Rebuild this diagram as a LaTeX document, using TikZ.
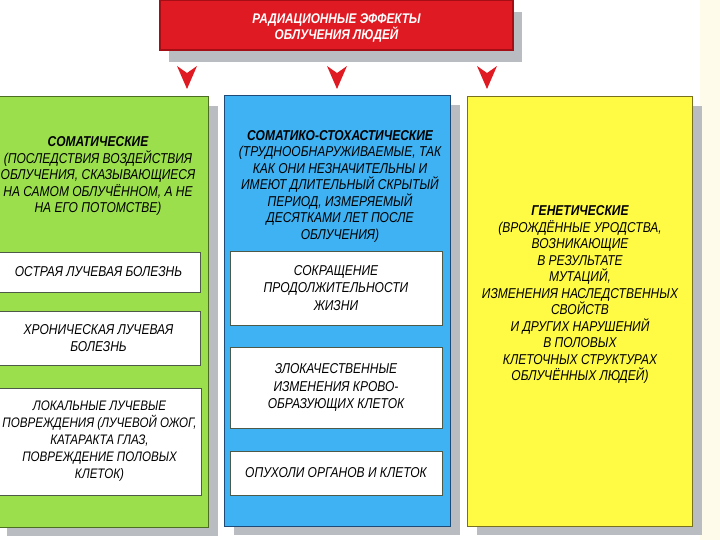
\documentclass[tikz,border=0pt]{standalone}
\usepackage{fontspec}
\setmainfont{Liberation Sans}[FakeStretch=0.84]
\usetikzlibrary{positioning,shadows}
\definecolor{titlered}{HTML}{E01A22}
\definecolor{titledark}{HTML}{A50E14}
\definecolor{shadowgray}{HTML}{B9BDC1}
\definecolor{somgreen}{HTML}{9CDF4C}
\definecolor{somdark}{HTML}{4B6E22}
\definecolor{stoblue}{HTML}{3EB2F2}
\definecolor{stodark}{HTML}{1E4A78}
\definecolor{genyellow}{HTML}{FFFB45}
\definecolor{gendark}{HTML}{77701E}
\definecolor{boxedge}{HTML}{4E5A48}
\definecolor{cream}{HTML}{FFFBEA}
\tikzset{
  column/.style={
    rectangle, line width=1pt,
    drop shadow={shadow xshift=10pt, shadow yshift=-9pt, fill=shadowgray, opacity=1}
  },
  titlebox/.style={
    rectangle, fill=titlered, draw=titledark, line width=1.2pt,
    minimum width=353pt, minimum height=50pt,
    drop shadow={shadow xshift=9pt, shadow yshift=-12pt, fill=shadowgray, opacity=1}
  },
  titletext/.style={
    font=\fontsize{14}{15}\selectfont\bfseries\itshape, text=white, align=center
  },
  headtext/.style={
    align=center, font=\fontsize{14.3}{16.5}\selectfont\itshape, text=black
  },
  itembox/.style={
    rectangle, fill=white, draw=boxedge, line width=0.8pt,
    align=center, font=\fontsize{14.3}{17.5}\selectfont\itshape
  },
  pointer/.style={fill=titlered, draw=none}
}
\begin{document}
\begin{tikzpicture}[x=1pt,y=-1pt]
\useasboundingbox (0,0) rectangle (720,540);
\fill[white] (0,0) rectangle (720,540);
\fill[cream] (700,0) rectangle (720,540);

% заголовок
\node[titlebox] (title) at (336.5,25) {};
\node[titletext] (titlelabel) at (336.5,28) {РАДИАЦИОННЫЕ ЭФФЕКТЫ\\ОБЛУЧЕНИЯ ЛЮДЕЙ};

% столбцы
\node[column, fill=somgreen, draw=somdark, minimum width=211pt, minimum height=430pt] (som) at (102.5,312) {};
\node[column, fill=stoblue, draw=stodark, minimum width=226pt, minimum height=430pt] (sto) at (337,311) {};
\node[column, fill=genyellow, draw=gendark, minimum width=225pt, minimum height=429pt] (gen) at (579.5,311.5) {};

% стрелки
\foreach \px in {187,337,487}
  \fill[pointer] (\px-10,66) -- (\px,73) -- (\px+10,66) -- (\px,89) -- cycle;

% соматические
\node[headtext] (somhead) at (98,176) {\textbf{СОМАТИЧЕСКИЕ}\\(ПОСЛЕДСТВИЯ ВОЗДЕЙСТВИЯ\\ОБЛУЧЕНИЯ, СКАЗЫВАЮЩИЕСЯ\\НА САМОМ ОБЛУЧЁННОМ, А НЕ\\НА ЕГО ПОТОМСТВЕ)};
\node[itembox, minimum width=203pt, minimum height=40pt] (som1) at (98.5,272) {ОСТРАЯ ЛУЧЕВАЯ БОЛЕЗНЬ};
\node[itembox, minimum width=203pt, minimum height=54pt] (som2) at (98.5,338) {ХРОНИЧЕСКАЯ ЛУЧЕВАЯ\\БОЛЕЗНЬ};
\node[itembox, minimum width=203pt, minimum height=107pt, font=\fontsize{13.8}{17}\selectfont\itshape] (som3) at (99.5,441.5) {ЛОКАЛЬНЫЕ ЛУЧЕВЫЕ\\ПОВРЕЖДЕНИЯ (ЛУЧЕВОЙ ОЖОГ,\\КАТАРАКТА ГЛАЗ,\\ПОВРЕЖДЕНИЕ ПОЛОВЫХ\\КЛЕТОК)};

% сомато-стохастические
\node[headtext] (stohead) at (340,186) {\textbf{СОМАТИКО-СТОХАСТИЧЕСКИЕ}\\(ТРУДНООБНАРУЖИВАЕМЫЕ, ТАК\\КАК ОНИ НЕЗНАЧИТЕЛЬНЫ И\\ИМЕЮТ ДЛИТЕЛЬНЫЙ СКРЫТЫЙ\\ПЕРИОД, ИЗМЕРЯЕМЫЙ\\ДЕСЯТКАМИ ЛЕТ ПОСЛЕ\\ОБЛУЧЕНИЯ)};
\node[itembox, minimum width=212pt, minimum height=74pt] (sto1) at (336,288) {СОКРАЩЕНИЕ\\ПРОДОЛЖИТЕЛЬНОСТИ\\ЖИЗНИ};
\node[itembox, minimum width=212pt, minimum height=81pt] (sto2) at (336,387.5) {ЗЛОКАЧЕСТВЕННЫЕ\\ИЗМЕНЕНИЯ КРОВО-\\ОБРАЗУЮЩИХ КЛЕТОК};
\node[itembox, minimum width=212pt, minimum height=44pt] (sto3) at (336,473) {ОПУХОЛИ ОРГАНОВ И КЛЕТОК};

% генетические
\node[headtext] (genhead) at (580,294.5) {\textbf{ГЕНЕТИЧЕСКИЕ}\\(ВРОЖДЁННЫЕ УРОДСТВА,\\ВОЗНИКАЮЩИЕ\\В РЕЗУЛЬТАТЕ\\МУТАЦИЙ,\\ИЗМЕНЕНИЯ НАСЛЕДСТВЕННЫХ\\СВОЙСТВ\\И ДРУГИХ НАРУШЕНИЙ\\В ПОЛОВЫХ\\КЛЕТОЧНЫХ СТРУКТУРАХ\\ОБЛУЧЁННЫХ ЛЮДЕЙ)};
\end{tikzpicture}
\end{document}
